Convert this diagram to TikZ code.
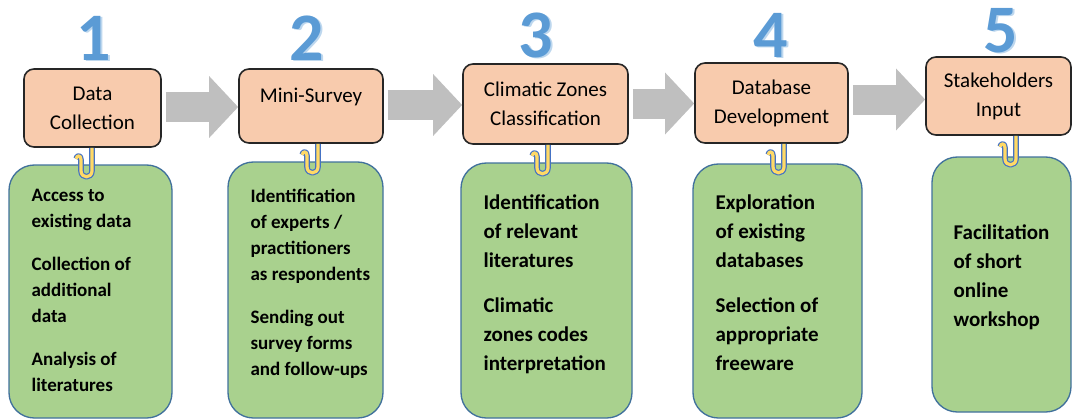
\documentclass[tikz,border=0pt]{standalone}
\usepackage{fontspec}
\setmainfont{Carlito}
\usetikzlibrary{arrows.meta,calc,positioning}
\definecolor{stepfill}{HTML}{F8CBAD}
\definecolor{notefill}{HTML}{A9D18E}
\definecolor{noteline}{HTML}{41719C}
\definecolor{flowgray}{HTML}{BFBFBF}
\definecolor{numblue}{HTML}{5B9BD5}
\definecolor{numshade}{HTML}{BDD7EE}
\definecolor{clipyellow}{HTML}{FFD966}
\definecolor{clipblue}{HTML}{4472C4}
\tikzset{
  stepbox/.style={draw=black!85, line width=1.2pt, fill=stepfill, rounded corners=7.5pt,
    align=center, inner sep=0pt, font=\fontsize{15.75}{21.75}\selectfont},
  notebox/.style={draw=noteline, line width=1pt, fill=notefill, rounded corners=19pt},
  notetext/.style={anchor=west, align=left, inner sep=0pt, font=\fontsize{14.25}{19.5}\bfseries\selectfont},
  bignotetext/.style={notetext, font=\fontsize{15.75}{21.75}\bfseries\selectfont},
  num/.style={inner sep=0pt, text=numblue, font=\fontsize{51}{51}\bfseries\selectfont},
  flow/.style={draw=flowgray, line width=22.5pt, shorten <=3pt,
    -{Triangle[length=21.75pt,width=45pt]}},
  paperclip/.pic={
    \draw[draw=clipblue, line width=0.9pt, double=clipyellow, double distance=2.4pt]
      (0,0) -- (0,23) .. controls (0,31) and (-11,31) .. (-11,23) -- (-11,12)
      .. controls (-11,7) and (-15,7) .. (-16,11);
  }
}
\begin{document}
\begin{tikzpicture}[x=0.75pt,y=-0.75pt,line join=round]
  \useasboundingbox (0,0) rectangle (1072,419);
  \def\px{0.75pt}
  % step boxes
  \node[stepbox, minimum width=137*\px, minimum height=78*\px] (o1) at (92.5,108) {Data\\Collection};
  \node[stepbox, minimum width=144*\px, minimum height=74*\px, text depth=16pt] (o2) at (311,106) {Mini-Survey};
  \node[stepbox, minimum width=165*\px, minimum height=80*\px] (o3) at (545.5,104) {Climatic Zones\\Classification};
  \node[stepbox, minimum width=153*\px, minimum height=80*\px] (o4) at (771.5,103) {Database\\Development};
  \node[stepbox, minimum width=145*\px, minimum height=78*\px] (o5) at (998.5,96) {Stakeholders\\Input};
  % step numbers
  \foreach \n/\x/\y in {1/94/38, 2/307/38, 3/536/35, 4/771/35, 5/1001/31} {
    \node[num, text=numshade] (s\n) at (\x+2,\y+1) {\n};
    \node[num] (n\n) at (\x,\y) {\n};
  }
  % arrows between steps
  \foreach \a/\b in {o1/o2, o2/o3, o3/o4, o4/o5} {
    \coordinate (m\a) at ($(\a.east)!0.5!(\b.west)$);
    \draw[flow] (m\a -| \a.east) -- (m\a -| \b.west);
  }
  % notes
  \node[notebox, minimum width=163*\px, minimum height=253*\px] (g1) at (90.5,291.5) {};
  \node[notebox, minimum width=155*\px, minimum height=256*\px] (g2) at (305.5,290) {};
  \node[notebox, minimum width=171*\px, minimum height=255*\px] (g3) at (546.5,290.5) {};
  \node[notebox, minimum width=169*\px, minimum height=254*\px] (g4) at (777.5,291) {};
  \node[notebox, minimum width=139*\px, minimum height=255*\px] (g5) at (1001.5,284.5) {};
  \node[notetext] (t1) at ($(g1.west)+(23,-1)$)
    {Access to\\existing data\\[13pt]Collection of\\additional\\data\\[13pt]Analysis of\\literatures};
  \node[notetext] (t2) at ($(g2.west)+(23,-6.5)$)
    {Identification\\of experts /\\practitioners\\as respondents\\[13pt]Sending out\\survey forms\\and follow-ups};
  \node[bignotetext] (t3) at ($(g3.west)+(23,-6)$)
    {Identification\\of relevant\\literatures\\[12pt]Climatic\\zones codes\\interpretation};
  \node[bignotetext] (t4) at ($(g4.west)+(23,-8.5)$)
    {Exploration\\of existing\\databases\\[12pt]Selection of\\appropriate\\freeware};
  \node[bignotetext] (t5) at ($(g5.west)+(22,-7)$)
    {Facilitation\\of short\\online\\workshop};
  % clips holding the notes
  \foreach \n/\dx in {1/-0.5, 2/7, 3/2.5, 4/12.5, 5/17.5}
    \pic at ($(o\n.south)+(\dx,0)$) {paperclip};
\end{tikzpicture}
\end{document}
